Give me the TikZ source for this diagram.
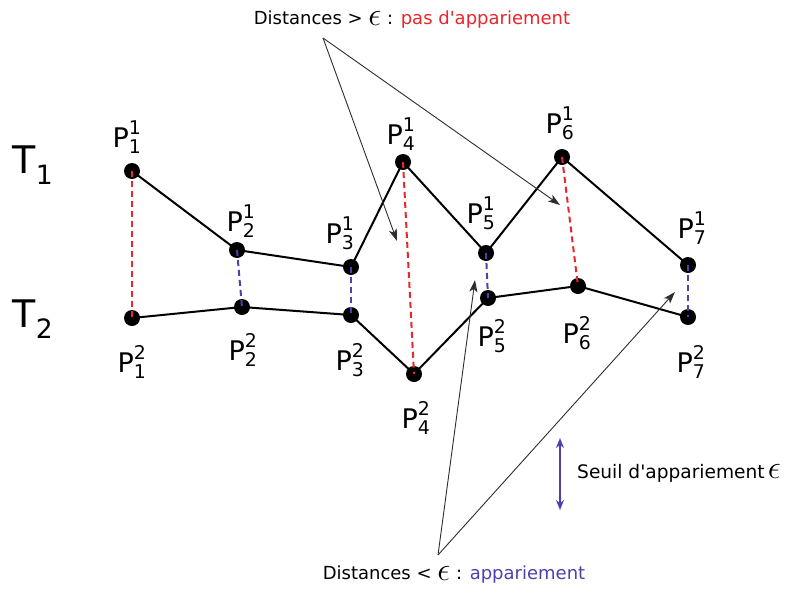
\documentclass[tikz,border=0pt]{standalone}
\usepackage{amsmath}
\usepackage{fontspec}
\setmainfont{DejaVu Sans}
\usetikzlibrary{arrows.meta}
\definecolor{myred}{RGB}{232,38,44}
\definecolor{myblue}{RGB}{82,62,172}
\definecolor{annot}{RGB}{45,45,45}
\newcommand{\bigeps}{\raisebox{-0.5pt}{\scalebox{1.9}{$\epsilon$}}}
\begin{document}
\begin{tikzpicture}[x=1pt,y=-1pt,
  dot/.style={circle,fill=black,inner sep=0pt,minimum size=16pt},
  lbl/.style={font=\fontsize{27}{30}\selectfont,inner sep=0pt},
  tlbl/.style={font=\fontsize{38}{42}\selectfont,inner sep=0pt},
  txt/.style={font=\fontsize{18}{21}\selectfont,inner sep=0pt},
  traj/.style={line width=2pt,black},
  farlink/.style={myred,line width=2pt,dash pattern=on 6pt off 4pt},
  nearlink/.style={myblue,line width=2pt,dash pattern=on 6pt off 4pt},
  ann/.style={annot,line width=0.9pt,-{Stealth[length=12pt,width=8pt,inset=3pt]}},
  seuil/.style={myblue,line width=2.2pt,{Stealth[length=10pt,width=8pt]}-{Stealth[length=10pt,width=8pt]}},
]
\useasboundingbox (0,0) rectangle (787,592);

% trajectory points
\node[dot] (a1) at (132,171) {};
\node[dot] (a2) at (237,250) {};
\node[dot] (a3) at (351,267) {};
\node[dot] (a4) at (403,162) {};
\node[dot] (a5) at (486,253) {};
\node[dot] (a6) at (562,157) {};
\node[dot] (a7) at (688,265) {};

\node[dot] (b1) at (132,318) {};
\node[dot] (b2) at (242,307) {};
\node[dot] (b3) at (351,315) {};
\node[dot] (b4) at (414,374) {};
\node[dot] (b5) at (488,298) {};
\node[dot] (b6) at (578,286) {};
\node[dot] (b7) at (688,317) {};

% trajectories
\draw[traj] (a1.center) -- (a2.center) -- (a3.center) -- (a4.center) -- (a5.center) -- (a6.center) -- (a7.center);
\draw[traj] (b1.center) -- (b2.center) -- (b3.center) -- (b4.center) -- (b5.center) -- (b6.center) -- (b7.center);

% links
\draw[farlink] (a1.center) -- (b1.center);
\draw[nearlink] (a2.center) -- (b2.center);
\draw[nearlink] (a3.center) -- (b3.center);
\draw[farlink] (a4.center) -- (b4.center);
\draw[nearlink] (a5.center) -- (b5.center);
\draw[farlink] (a6.center) -- (b6.center);
\draw[nearlink] (a7.center) -- (b7.center);

% labels
\node[lbl] (la1) at (127,137) {$\text{P}^{\text{1}}_{\text{1}}$};
\node[lbl] (la2) at (241,221) {$\text{P}^{\text{1}}_{\text{2}}$};
\node[lbl] (la3) at (340,233) {$\text{P}^{\text{1}}_{\text{3}}$};
\node[lbl] (la4) at (401,134) {$\text{P}^{\text{1}}_{\text{4}}$};
\node[lbl] (la5) at (481,213) {$\text{P}^{\text{1}}_{\text{5}}$};
\node[lbl] (la6) at (560,123) {$\text{P}^{\text{1}}_{\text{6}}$};
\node[lbl] (la7) at (692,228) {$\text{P}^{\text{1}}_{\text{7}}$};

\node[lbl] (lb1) at (132,362) {$\text{P}^{\text{2}}_{\text{1}}$};
\node[lbl] (lb2) at (243,350) {$\text{P}^{\text{2}}_{\text{2}}$};
\node[lbl] (lb3) at (350,360) {$\text{P}^{\text{2}}_{\text{3}}$};
\node[lbl] (lb4) at (416,418) {$\text{P}^{\text{2}}_{\text{4}}$};
\node[lbl] (lb5) at (492,336) {$\text{P}^{\text{2}}_{\text{5}}$};
\node[lbl] (lb6) at (577,333) {$\text{P}^{\text{2}}_{\text{6}}$};
\node[lbl] (lb7) at (691,362) {$\text{P}^{\text{2}}_{\text{7}}$};

\node[tlbl] (t1) at (33,165) {$\text{T}_{\text{1}}$};
\node[tlbl] (t2) at (33,319) {$\text{T}_{\text{2}}$};

% annotations
\node[txt] (top) at (412,20) {Distances > \bigeps{} : \textcolor{myred}{pas d\textquotesingle appariement}};
\node[txt] (bot) at (454,575) {Distances < \bigeps{} : \textcolor{myblue}{appariement}};
\node[txt,anchor=west,font=\fontsize{18.6}{21}\selectfont] (seuiltxt) at (577,473) {Seuil d\textquotesingle appariement\,\bigeps};

\coordinate (topapex) at (323,38);
\coordinate (tipA) at (397,241);
\coordinate (tipB) at (560,205);
\coordinate (botapex) at (438,555);
\coordinate (tipC) at (475,280);
\coordinate (tipD) at (675,292);
\coordinate (s1) at (560,438);
\coordinate (s2) at (560,510);

\draw[ann] (topapex) -- (tipA);
\draw[ann] (topapex) -- (tipB);
\draw[ann] (botapex) -- (tipC);
\draw[ann] (botapex) -- (tipD);
\draw[seuil] (s1) -- (s2);
\end{tikzpicture}
\end{document}
